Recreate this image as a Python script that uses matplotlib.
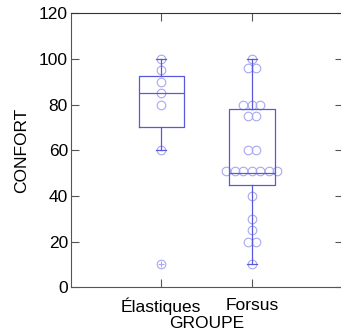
import numpy as np
import matplotlib
matplotlib.use("Agg")
import matplotlib.pyplot as plt

plt.rcParams['font.family'] = ['Liberation Sans', 'DejaVu Sans']

groups = ['Élastiques', 'Forsus']
elastiques = [100, 95, 90, 85, 80, 60, 10]
forsus = [100, 96, 96, 80, 80, 80, 75, 75, 60, 60,
          51, 51, 51, 51, 51, 51, 51, 40, 30, 25, 20, 20, 10]
# box statistics
medians = [85, 50]
q1s = [70, 45]
q3s = [92.5, 78]
whis_lo = [60, 10]
whis_hi = [100, 100]
fliers = [[10], []]
yticks = [0, 20, 40, 60, 80, 100, 120]

box_col = '#5858dc'
pt_col = '#a8a8f0'

fig = plt.figure(figsize=(3.41, 3.35), dpi=100)
ax = fig.add_axes([70.7 / 341, 47.7 / 335, 271.8 / 341, 274.0 / 335])

# swarm-like points
spacing = 0.094
for pos, data in zip([1, 2], [elastiques, forsus]):
    vals, counts = np.unique(data, return_counts=True)
    xs, ys = [], []
    for v, c in zip(vals, counts):
        for i in range(c):
            xs.append(pos + (i - (c - 1) / 2) * spacing)
            ys.append(v)
    ax.plot(xs, ys, linestyle='none', marker='o', markersize=6.2,
            markerfacecolor='none', markeredgecolor=pt_col, markeredgewidth=0.8,
            zorder=2)

stats = []
for i, g in enumerate(groups):
    stats.append(dict(med=medians[i], q1=q1s[i], q3=q3s[i],
                      whislo=whis_lo[i], whishi=whis_hi[i],
                      fliers=fliers[i], label=g))
line_kw = dict(color=box_col, linewidth=0.9)
ax.bxp(stats, positions=[1, 2], widths=0.5, capwidths=0.11,
       boxprops=line_kw, whiskerprops=line_kw, capprops=line_kw,
       medianprops=line_kw,
       flierprops=dict(marker='+', markersize=4, markeredgecolor=pt_col,
                       markeredgewidth=0.8, linestyle='none'),
       zorder=3)

ax.set_xlim(0, 3)
ax.set_ylim(0, 120)
ax.set_xticks([1, 2])
ax.set_xticklabels(groups)
ax.set_yticks(yticks)
ax.set_yticklabels([str(t) for t in yticks])
ax.tick_params(direction='in', length=5.8, width=0.8, color='#555555',
               labelsize=12.5, top=True, right=True)
ax.tick_params(axis='x', pad=7.5)
ax.tick_params(axis='y', pad=2)
for s in ax.spines.values():
    s.set_color('#555555')
    s.set_linewidth(0.8)
ax.spines['top'].set_color('#333333')
ax.set_xlabel('GROUPE', fontsize=12.5, labelpad=0.5)
ax.set_ylabel('CONFORT', fontsize=12.5, labelpad=7)

fig.savefig('out.png', dpi=100)
